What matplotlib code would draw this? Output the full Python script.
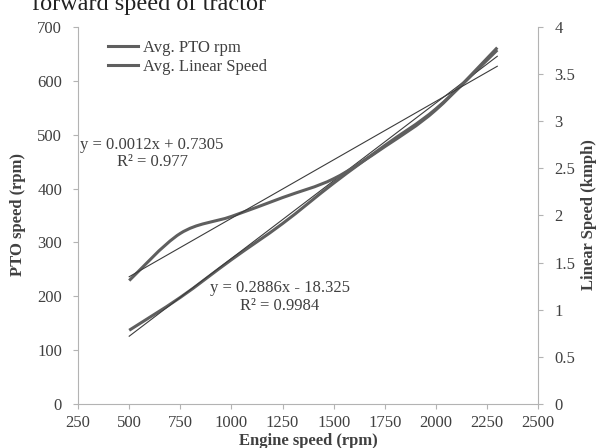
import numpy as np
import matplotlib.pyplot as plt
from matplotlib.path import Path
from matplotlib.patches import PathPatch
from matplotlib.lines import Line2D

plt.rcParams['font.family'] = ['Liberation Serif', 'DejaVu Serif']

# data
engine_rpm = [500, 750, 1000, 1250, 1500, 1750, 2000, 2300]
pto_rpm = [137, 198, 268, 335, 410, 480, 548, 657]
linear_kmph = [1.31, 1.81, 1.99, 2.19, 2.39, 2.73, 3.12, 3.78]

# trendline coefficients (slope, intercept)
pto_fit = (0.2886, -18.325)
speed_fit = (0.00124, 0.7305)
pto_eq = 'y = 0.2886x - 18.325\nR² = 0.9984'
speed_eq = 'y = 0.0012x + 0.7305\nR² = 0.977'

series_names = ['Avg. PTO rpm', 'Avg. Linear Speed']
x_ticks = [250, 500, 750, 1000, 1250, 1500, 1750, 2000, 2250, 2500]
left_ticks = [0, 100, 200, 300, 400, 500, 600, 700]
right_ticks = [0, 0.5, 1, 1.5, 2, 2.5, 3, 3.5, 4]

curve_col = '#5f5f5f'
trend_col = '#3c3c3c'
axis_col = '#b3b3b3'
text_col = '#404040'
fs = 12


def smooth_path(xs, ys):
    # Excel-like smoothed line: cubic bezier through the points
    p = np.column_stack([xs, ys]).astype(float)
    n = len(p)
    verts = [p[0]]
    codes = [Path.MOVETO]
    for i in range(n - 1):
        p0 = p[i - 1] if i > 0 else p[i]
        p3 = p[i + 2] if i + 2 < n else p[i + 1]
        c1 = p[i] + (p[i + 1] - p0) / 6
        c2 = p[i + 1] - (p3 - p[i]) / 6
        verts += [c1, c2, p[i + 1]]
        codes += [Path.CURVE4] * 3
    return Path(verts, codes)


fig = plt.figure(figsize=(5.96, 4.48), dpi=100)
ax = fig.add_axes([0.131, 0.098, 0.772, 0.842])
ax2 = ax.twinx()

ax.set_xlim(250, 2500)
ax.set_ylim(0, 700)
ax2.set_ylim(0, 4)

# curves
ax.add_patch(PathPatch(smooth_path(engine_rpm, pto_rpm), fill=False,
                       edgecolor=curve_col, lw=2.2, transform=ax.transData))
ax2.add_patch(PathPatch(smooth_path(engine_rpm, linear_kmph), fill=False,
                        edgecolor=curve_col, lw=2.2, transform=ax2.transData))

# trendlines
xf = np.array([engine_rpm[0], engine_rpm[-1]])
ax.plot(xf, pto_fit[0] * xf + pto_fit[1], color=trend_col, lw=0.8)
ax2.plot(xf, speed_fit[0] * xf + speed_fit[1], color=trend_col, lw=0.8)

ax.text(612, 465, speed_eq, ha='center', va='center', fontsize=fs,
        color=text_col, linespacing=1.15)
ax.text(1238, 199, pto_eq, ha='center', va='center', fontsize=fs,
        color=text_col, linespacing=1.15)

# axes styling
for a in (ax, ax2):
    for s in a.spines.values():
        s.set_color(axis_col)
    a.spines['top'].set_visible(False)
    a.tick_params(direction='out', length=3.5, color=axis_col,
                  labelcolor=text_col, labelsize=fs, pad=8)
ax.tick_params(axis='x', pad=4)
ax.spines['right'].set_visible(False)
ax2.spines['left'].set_visible(False)
ax2.spines['bottom'].set_visible(False)

ax.set_xticks(x_ticks)
ax.set_yticks(left_ticks)
ax2.set_yticks(right_ticks)
ax2.set_yticklabels([f'{v:g}' for v in right_ticks])

fig.text(0.5 * (0.131 + 0.903), 1 - 441 / 448, 'Engine speed (rpm)',
         ha='center', va='center', fontsize=fs, fontweight='bold', color=text_col)
fig.text(18 / 596, 1 - 215 / 448, 'PTO speed (rpm)', rotation=90,
         ha='center', va='center', fontsize=fs, fontweight='bold', color=text_col)
fig.text(589 / 596, 1 - 215 / 448, 'Linear Speed (kmph)', rotation=90,
         ha='center', va='center', fontsize=fs, fontweight='bold', color=text_col)

# caption cut off at the top of the image
fig.text(32 / 596, 1 - 10 / 448, 'forward speed of tractor', ha='left',
         va='baseline', fontsize=17.5, color='#222222')

handles = [Line2D([], [], color=curve_col, lw=2.2) for _ in series_names]
ax.legend(handles, series_names, loc='upper left', bbox_to_anchor=(0.065, 0.965),
          frameon=False, fontsize=fs, handlelength=1.8, handletextpad=0.3,
          labelspacing=0.15, borderpad=0, borderaxespad=0, labelcolor=text_col)

fig.savefig('out.png', dpi=100)
